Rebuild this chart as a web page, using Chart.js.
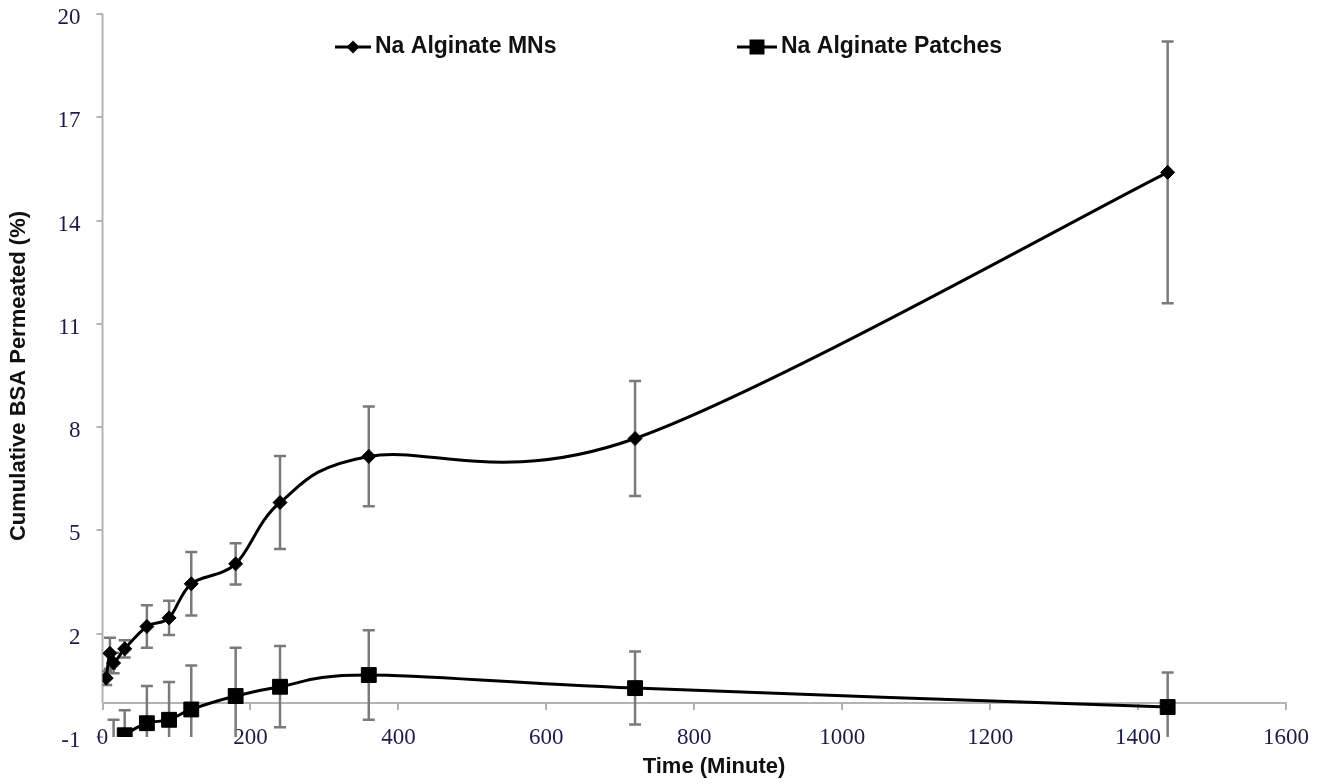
<!DOCTYPE html>
<html>
<head>
<meta charset="utf-8">
<script src="https://cdn.jsdelivr.net/npm/chart.js@4.4.0/dist/chart.umd.min.js"></script>
<style>
  html, body { margin: 0; padding: 0; background: #fff; }
  #wrap { width: 1322px; height: 784px; position: relative; }
</style>
</head>
<body>
<div id="wrap"><canvas id="myChart"></canvas></div>
<script>
// Data (time in minutes, % permeated, +/- error)
const times = [5, 10, 15, 30, 60, 90, 120, 180, 240, 360, 720, 1440];
const mnValues = [0.71, 1.43, 1.15, 1.56, 2.21, 2.46, 3.45, 4.03, 5.81, 7.15, 7.67, 15.4];
const mnErrors = [0.2, 0.45, 0.3, 0.25, 0.62, 0.5, 0.92, 0.6, 1.35, 1.45, 1.67, 3.8];
const patchValues = [-1.6, -1.5, -1.3, -0.95, -0.6, -0.5, -0.2, 0.19, 0.46, 0.8, 0.42, -0.13];
const patchErrors = [0.45, 0.45, 0.8, 0.73, 1.08, 1.1, 1.28, 1.4, 1.18, 1.3, 1.06, 1.0];

const seriesNames = ['Na Alginate MNs', 'Na Alginate Patches'];
const xTicks = [0, 200, 400, 600, 800, 1000, 1200, 1400, 1600];
const yTicks = [-1, 2, 5, 8, 11, 14, 17, 20];
const xTitle = 'Time (Minute)';
const yTitle = 'Cumulative BSA Permeated (%)';

const ctx = document.getElementById('myChart').getContext('2d');
const axisGrey = '#b3b3b3';
const tickFont = { family: '"Liberation Serif", serif', size: 23 };
const tickColor = '#1c1c48';

const toPoints = (vals) => vals.map((v, i) => ({ x: times[i], y: v }));

// draws a diamond or square marker
function drawMarker(c, style, x, y, r) {
  c.beginPath();
  if (style === 'rectRot') {
    c.moveTo(x, y - r);
    c.lineTo(x + r, y);
    c.lineTo(x, y + r);
    c.lineTo(x - r, y);
  } else {
    c.rect(x - r, y - r, r * 2, r * 2);
  }
  c.closePath();
  c.fill();
}

// Excel style smoothing: control points at +/- (next - prev) / 6
const excelSmooth = {
  id: 'excelSmooth',
  beforeDatasetDraw(chart, args) {
    const line = args.meta.dataset;
    const pts = args.meta.data;
    pts.forEach((p, i) => {
      const prev = pts[i - 1] || p;
      const next = pts[i + 1] || p;
      const dx = (next.x - prev.x) / 6;
      const dy = (next.y - prev.y) / 6;
      p.cp1x = p.x - dx;
      p.cp1y = p.y - dy;
      p.cp2x = p.x + dx;
      p.cp2y = p.y + dy;
    });
    line._pointsUpdated = true;
    line._path = undefined;
  },
};

// Error bars, y axis line, titles and legend
const decorations = {
  id: 'decorations',
  beforeDatasetsDraw(chart) {
    const c = chart.ctx;
    const { left, right, top, bottom } = chart.chartArea;
    const xs = chart.scales.x;
    const ys = chart.scales.y;

    // vertical axis line stops at zero
    c.save();
    c.strokeStyle = axisGrey;
    c.lineWidth = 2;
    c.beginPath();
    c.moveTo(left, ys.getPixelForValue(20));
    c.lineTo(left, ys.getPixelForValue(0));
    c.stroke();
    c.restore();

    c.save();
    c.beginPath();
    c.rect(left, top, right - left, bottom - top);
    c.clip();
    c.strokeStyle = '#7a7a7a';
    c.lineWidth = 2.5;
    chart.data.datasets.forEach(ds => {
      ds.data.forEach((pt, i) => {
        const x = xs.getPixelForValue(pt.x);
        const y1 = ys.getPixelForValue(pt.y + ds.errors[i]);
        const y2 = ys.getPixelForValue(pt.y - ds.errors[i]);
        c.beginPath();
        c.moveTo(x, y1);
        c.lineTo(x, y2);
        c.moveTo(x - 6, y1);
        c.lineTo(x + 6, y1);
        c.moveTo(x - 6, y2);
        c.lineTo(x + 6, y2);
        c.stroke();
      });
    });
    c.restore();
  },
  afterDraw(chart) {
    const c = chart.ctx;
    c.save();
    c.fillStyle = '#111';
    c.font = 'bold 22px "Liberation Sans", Arial, sans-serif';
    c.textAlign = 'center';
    c.textBaseline = 'middle';
    c.fillText(xTitle, 714, 767);

    c.save();
    c.translate(19, 376);
    c.rotate(-Math.PI / 2);
    c.fillText(yTitle, 0, 0);
    c.restore();

    // legend: line + marker + name
    const items = [
      { x: 335, w: 36, style: 'rectRot', r: 6.5 },
      { x: 737, w: 40, style: 'rect', r: 7.5 },
    ];
    const ly = 47;
    c.font = 'bold 23px "Liberation Sans", Arial, sans-serif';
    c.textAlign = 'left';
    items.forEach((it, i) => {
      c.strokeStyle = '#000';
      c.fillStyle = '#000';
      c.lineWidth = 3;
      c.beginPath();
      c.moveTo(it.x, ly);
      c.lineTo(it.x + it.w, ly);
      c.stroke();
      drawMarker(c, it.style, it.x + it.w / 2, ly, it.r);
      c.fillStyle = '#111';
      c.fillText(seriesNames[i], it.x + it.w + 4, ly);
    });
    c.restore();
  },
};

const myChart = new Chart(ctx, {
  type: 'line',
  data: {
    datasets: [
      {
        label: seriesNames[0],
        data: toPoints(mnValues),
        errors: mnErrors,
        borderColor: '#000',
        borderWidth: 3,
        backgroundColor: '#000',
        pointStyle: 'rectRot',
        pointRadius: 7,
        pointBorderWidth: 1,
        tension: 0.4,
      },
      {
        label: seriesNames[1],
        data: toPoints(patchValues),
        errors: patchErrors,
        borderColor: '#000',
        borderWidth: 3,
        backgroundColor: '#000',
        pointStyle: 'rect',
        pointRadius: 10.5,
        pointBorderWidth: 1,
        tension: 0.4,
      },
    ],
  },
  options: {
    responsive: true,
    maintainAspectRatio: false,
    animation: false,
    layout: { padding: { left: 0, right: 36, top: 14, bottom: 47 } },
    plugins: {
      legend: { display: false },
      tooltip: { enabled: false },
    },
    scales: {
      x: {
        type: 'linear',
        position: { y: 0 },
        min: 0,
        max: 1600,
        afterBuildTicks: scale => {
          scale.ticks = xTicks.map(v => ({ value: v }));
        },
        afterFit: scale => {
          scale.paddingLeft = 0;
          scale.paddingRight = 0;
        },
        grid: { drawOnChartArea: false, drawTicks: true, tickLength: 6, color: axisGrey, lineWidth: 2 },
        border: { display: true, color: axisGrey, width: 2 },
        ticks: { font: tickFont, color: tickColor, padding: 16, maxRotation: 0, callback: v => String(v) },
      },
      y: {
        type: 'linear',
        min: -1,
        max: 20,
        afterBuildTicks: scale => {
          scale.ticks = yTicks.map(v => ({ value: v }));
        },
        afterFit: scale => {
          scale.width = 102.5;
          scale.paddingTop = 0;
          scale.paddingBottom = 0;
        },
        grid: { drawOnChartArea: false, drawTicks: true, tickLength: 6, color: axisGrey, lineWidth: 2 },
        border: { display: false },
        ticks: { font: tickFont, color: tickColor, padding: 16, labelOffset: 4, callback: v => String(v) },
      },
    },
  },
  plugins: [excelSmooth, decorations],
});
</script>
</body>
</html>
